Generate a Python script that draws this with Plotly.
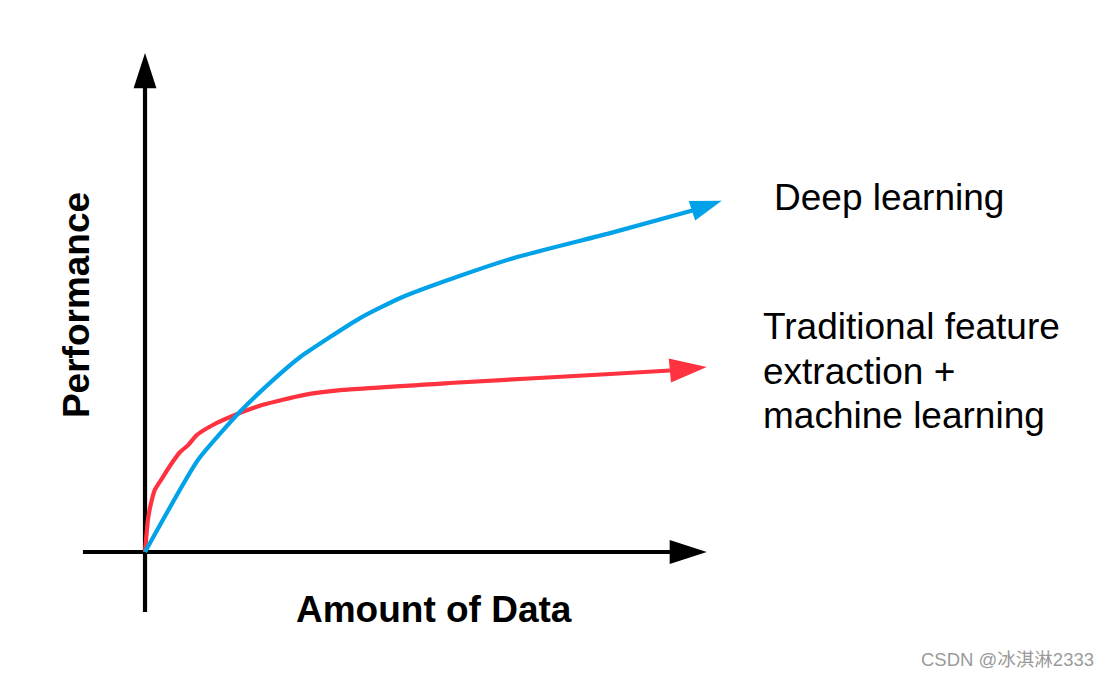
import plotly.graph_objects as go

# curves (amount of data -> performance), arbitrary 0..100 units
deep_x = [0, 9.2, 16.5, 22.3, 27.0, 37.4, 44.4, 54.3, 64.7, 80.9, 95.2, 100.3]
deep_y = [0, 26.5, 40.4, 49.6, 56.2, 67.4, 73.2, 79.3, 85.0, 91.9, 98.4, 101.2]

trad_x = [0, 0.5, 0.9, 1.7, 3.1, 4.7, 6.1, 7.5, 9.0, 11.8, 14.8, 20.5, 27.5, 34.4, 53.0, 80.9, 91.3, 97.7]
trad_y = [0, 9.2, 13.0, 17.9, 21.6, 25.7, 28.8, 30.8, 33.7, 36.6, 38.9, 42.4, 45.2, 46.7, 48.7, 51.3, 52.3, 53.3]

# axis arrows (start, arrow base, tip)
x_axis_x = [-10.8, 91.3, 97.7]
y_axis_y = [-17.3, 133.7, 143.8]

deep_label = "Deep learning"
trad_label = ["Traditional feature", "extraction +", "machine learning"]
x_title = "Amount of Data"
y_title = "Performance"

BLUE = "#02a2e8"
RED = "#ff323f"
BLACK = "#000000"

fig = go.Figure()


def arrow_line(xs, ys, color, head, shape="linear"):
    # line up to the arrow base, then an arrow marker on the tip
    fig.add_trace(go.Scatter(x=xs[:-1], y=ys[:-1], mode="lines",
                             line=dict(color=color, width=4.2, shape=shape, smoothing=0.5),
                             hoverinfo="skip", showlegend=False))
    fig.add_trace(go.Scatter(x=xs[-2:], y=ys[-2:], mode="markers",
                             marker=dict(symbol="arrow", angleref="previous",
                                         size=[0, head], color=color, opacity=1,
                                         line=dict(width=0)),
                             hoverinfo="skip", showlegend=False))


# axes
arrow_line(x_axis_x, [0, 0, 0], BLACK, 39)
arrow_line([0, 0, 0], y_axis_y, BLACK, 37)

# curves
arrow_line(trad_x, trad_y, RED, 39, "spline")
arrow_line(deep_x, deep_y, BLUE, 33, "spline")

big = dict(family="Liberation Sans, Arial, sans-serif", size=37, color=BLACK)
fig.add_annotation(x=109.0, y=102.2, text=deep_label, showarrow=False,
                   xanchor="left", yanchor="middle", font=big)
for line_text, ly in zip(trad_label, [65.0, 52.0, 39.2]):
    fig.add_annotation(x=107.2, y=ly, text=line_text, showarrow=False,
                       xanchor="left", yanchor="middle", font=big)
fig.add_annotation(x=50.2, y=-16.6, text="<b>%s</b>" % x_title, showarrow=False,
                   xanchor="center", yanchor="middle", font=big)
fig.add_annotation(x=-11.8, y=71.2, text="<b>%s</b>" % y_title, showarrow=False,
                   textangle=-90, xanchor="center", yanchor="middle", font=big)

# watermark
fig.add_annotation(x=165.3, y=-31.1, text="CSDN @冰淇淋2333", showarrow=False,
                   xanchor="right", yanchor="middle",
                   font=dict(family="Liberation Sans, Noto Sans CJK SC, sans-serif",
                             size=18.5, color="#9a9a9a"))

# page has an 8px body margin, so the figure is 16px smaller and the ranges start 8px in
fig.update_layout(
    width=1094, height=662,
    margin=dict(l=0, r=0, t=0, b=0),
    paper_bgcolor="white", plot_bgcolor="white",
    xaxis=dict(range=[-23.83, 166.43], visible=False, fixedrange=True),
    yaxis=dict(range=[-34.01, 156.77], visible=False, fixedrange=True),
)

fig.write_html("out.html")
